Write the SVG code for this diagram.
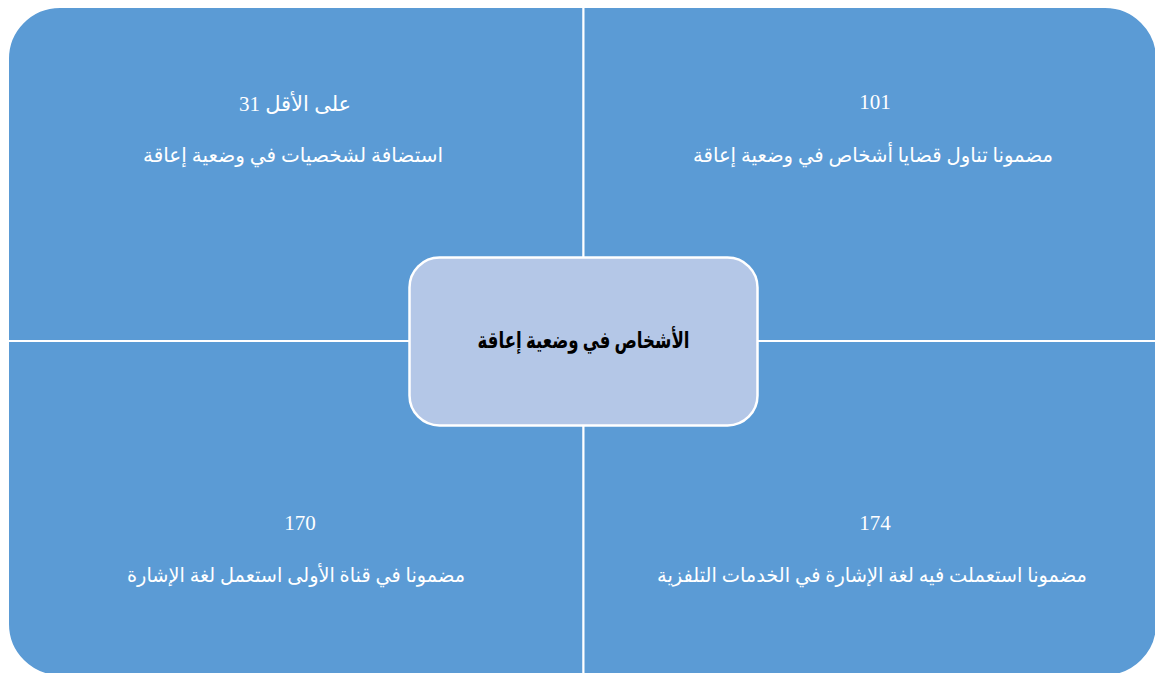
<svg xmlns="http://www.w3.org/2000/svg" width="1155" height="673" viewBox="0 0 1155 673">
<style>
.q{fill:#5B9BD5;stroke:#FFFFFF;stroke-width:2}
.c{fill:#B4C7E7;stroke:#FFFFFF;stroke-width:2.5}
.t{font-family:"Liberation Serif","DejaVu Sans",serif;font-size:21px;fill:#FFFFFF;text-anchor:middle}
.a{font-size:20px}
.ct{font-family:"Liberation Serif","DejaVu Sans",serif;font-size:23px;font-weight:bold;fill:#000000;text-anchor:middle}
</style>
<rect width="1155" height="673" fill="#FFFFFF"/>
<g id="quad-tl">
<path class="q" d="M8,60 A52,52 0 0 1 60,7 L583.5,7 L583.5,341 L8,341 Z"/>
<text class="t" x="295" y="111">على الأقل 31</text>
<text class="t a" x="293" y="162" direction="rtl" textLength="300" lengthAdjust="spacingAndGlyphs">استضافة لشخصيات في وضعية إعاقة</text>
</g>
<g id="quad-tr">
<path class="q" d="M583.5,7 L1105,7 A52,52 0 0 1 1157,59 L1157,341 L583.5,341 Z"/>
<text class="t" x="875" y="109">101</text>
<text class="t a" x="873" y="162" direction="rtl" textLength="360" lengthAdjust="spacingAndGlyphs">مضمونا تناول قضايا أشخاص في وضعية إعاقة</text>
</g>
<g id="quad-bl">
<path class="q" d="M8,341 L583.5,341 L583.5,676 L60,676 A52,52 0 0 1 8,624 Z"/>
<text class="t" x="300" y="530">170</text>
<text class="t a" x="296" y="582" direction="rtl" textLength="338" lengthAdjust="spacingAndGlyphs">مضمونا في قناة الأولى استعمل لغة الإشارة</text>
</g>
<g id="quad-br">
<path class="q" d="M583.5,341 L1157,341 L1157,624 A52,52 0 0 1 1105,676 L583.5,676 Z"/>
<text class="t" x="875" y="530">174</text>
<text class="t a" x="872" y="582" direction="rtl" textLength="430" lengthAdjust="spacingAndGlyphs">مضمونا استعملت فيه لغة الإشارة في الخدمات التلفزية</text>
</g>
<g id="connectors"></g>
<g id="center">
<rect class="c" x="409.5" y="257.5" width="348" height="168" rx="30" ry="30"/>
<text class="ct" x="583.5" y="348" direction="rtl" textLength="212" lengthAdjust="spacingAndGlyphs">الأشخاص في وضعية إعاقة</text>
</g>
</svg>
